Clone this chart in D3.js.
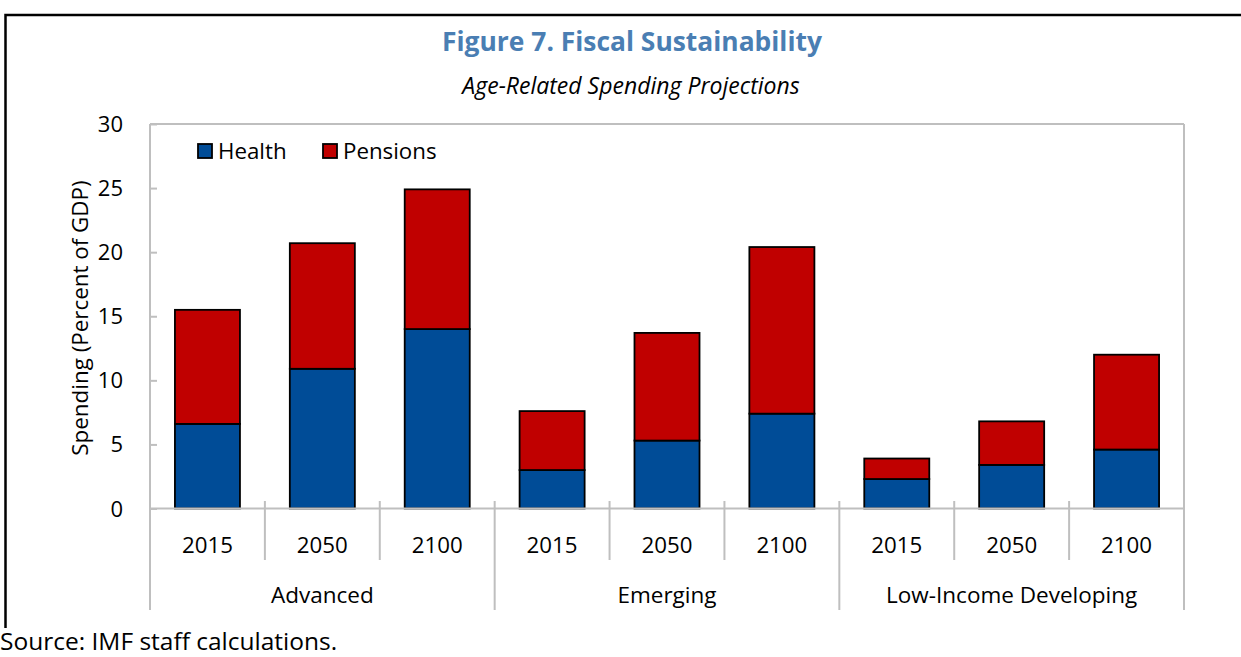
<!DOCTYPE html>
<html><head><meta charset="utf-8">
<script src="https://cdn.jsdelivr.net/npm/d3@7"></script>
<style>html,body{margin:0;padding:0;background:#fff;}svg{display:block;}</style>
</head><body>
<svg id="chart" width="1241" height="657"></svg>
<script>
const groups = ["Advanced", "Emerging", "Low-Income Developing"];
const years = ["2015", "2050", "2100"];
const health = [6.6, 10.9, 14.0, 3.0, 5.3, 7.4, 2.3, 3.4, 4.6];
const pensions = [8.9, 9.8, 10.9, 4.6, 8.4, 13.0, 1.6, 3.4, 7.4];
const seriesNames = ["Health", "Pensions"];
const seriesColors = ["#004C97", "#C00000"];
const yTicks = [0, 5, 10, 15, 20, 25, 30];

const font = "'Open Sans', 'Noto Sans', sans-serif";
const svg = d3.select("#chart");
const L = 150, R = 1184, T = 124, B = 508.5;

const cats = [];
groups.forEach((g, gi) => years.forEach((y, yi) => cats.push({key: g + "|" + y, group: g, year: y, i: gi * 3 + yi})));
const rows = cats.map(c => ({key: c.key, Health: health[c.i], Pensions: pensions[c.i]}));

const x = d3.scaleBand().domain(cats.map(c => c.key)).range([L, R]).paddingInner(0).paddingOuter(0);
const y = d3.scaleLinear().domain([0, 30]).range([B, T]);
const stack = d3.stack().keys(seriesNames)(rows);

// figure frame
svg.append("path").attr("d", `M5.5,628 L5.5,15 L1241,15`).attr("fill", "none").attr("stroke", "#000").attr("stroke-width", 2.5);

// titles
svg.append("text").attr("x", 632).attr("y", 51).attr("text-anchor", "middle")
  .attr("font-family", font).attr("font-weight", 700).attr("font-size", 26.4).attr("fill", "#4A7EB3")
  .text("Figure 7. Fiscal Sustainability");
svg.append("text").attr("x", 631).attr("y", 94).attr("text-anchor", "middle")
  .attr("font-family", font).attr("font-style", "italic").attr("font-size", 23).attr("fill", "#000")
  .text("Age-Related Spending Projections");

// plot border
const grey = "#BFBFBF";
svg.append("line").attr("x1", L).attr("x2", R).attr("y1", T).attr("y2", T).attr("stroke", grey).attr("stroke-width", 2);
svg.append("line").attr("x1", R).attr("x2", R).attr("y1", T).attr("y2", 610).attr("stroke", grey).attr("stroke-width", 2);

// y axis
const yAxis = d3.axisRight(y).tickValues(yTicks).tickSize(7).tickFormat("");
const ya = svg.append("g").attr("transform", `translate(${L},0)`).call(yAxis);
ya.select(".domain").remove();
ya.selectAll(".tick line").attr("stroke", grey).attr("stroke-width", 2);
svg.append("line").attr("x1", L).attr("x2", L).attr("y1", T).attr("y2", 610).attr("stroke", grey).attr("stroke-width", 2);
svg.append("g").selectAll("text").data(yTicks).join("text")
  .attr("x", 123).attr("y", d => y(d) + 8).attr("text-anchor", "end")
  .attr("font-family", font).attr("font-size", 22).attr("fill", "#000").text(d => d);
svg.append("text").attr("transform", `translate(88,318) rotate(-90)`).attr("text-anchor", "middle")
  .attr("font-family", font).attr("font-size", 22.4).attr("fill", "#000").text("Spending (Percent of GDP)");

// bars
const bw = x.bandwidth() * 0.566;
svg.append("g").selectAll("g").data(stack).join("g")
  .attr("fill", (d, i) => seriesColors[i])
  .selectAll("rect").data(d => d).join("rect")
  .attr("x", d => x(d.data.key) + (x.bandwidth() - bw) / 2)
  .attr("y", d => y(d[1]))
  .attr("width", bw)
  .attr("height", d => y(d[0]) - y(d[1]))
  .attr("stroke", "#000").attr("stroke-width", 1.8);

// x axis line
svg.append("line").attr("x1", L).attr("x2", R).attr("y1", B).attr("y2", B).attr("stroke", grey).attr("stroke-width", 2);

// year dividers and labels
const xa = svg.append("g");
cats.forEach((c, k) => {
  if (k > 0 && k % 3 !== 0) {
    xa.append("line").attr("x1", x(c.key)).attr("x2", x(c.key)).attr("y1", 501).attr("y2", 560).attr("stroke", grey).attr("stroke-width", 2);
  }
});
xa.selectAll("text.yr").data(cats).join("text").attr("class", "yr")
  .attr("x", d => x(d.key) + x.bandwidth() / 2).attr("y", 553).attr("text-anchor", "middle")
  .attr("font-family", font).attr("font-size", 22.3).attr("fill", "#000").text(d => d.year);
groups.forEach((g, gi) => {
  if (gi > 0) {
    const gx = x(g + "|" + years[0]);
    xa.append("line").attr("x1", gx).attr("x2", gx).attr("y1", 501).attr("y2", 610).attr("stroke", grey).attr("stroke-width", 2);
  }
  const x0 = x(g + "|" + years[0]), x1 = x(g + "|" + years[2]) + x.bandwidth();
  xa.append("text").attr("x", (x0 + x1) / 2).attr("y", 603).attr("text-anchor", "middle")
    .attr("font-family", font).attr("font-size", 22.5).attr("fill", "#000").text(g);
});

// legend
const lg = svg.append("g");
const lx = [198, 323];
seriesNames.forEach((s, i) => {
  lg.append("rect").attr("x", lx[i]).attr("y", 144).attr("width", 14).attr("height", 14)
    .attr("fill", seriesColors[i]).attr("stroke", "#000").attr("stroke-width", 1.8);
  lg.append("text").attr("x", lx[i] + 20).attr("y", 159).attr("font-family", font).attr("font-size", 22.3)
    .attr("fill", "#000").text(s);
});

// source
svg.append("text").attr("x", 0).attr("y", 650).attr("font-family", font).attr("font-size", 24.5)
  .attr("fill", "#000").text("Source: IMF staff calculations.");
</script>
</body></html>
